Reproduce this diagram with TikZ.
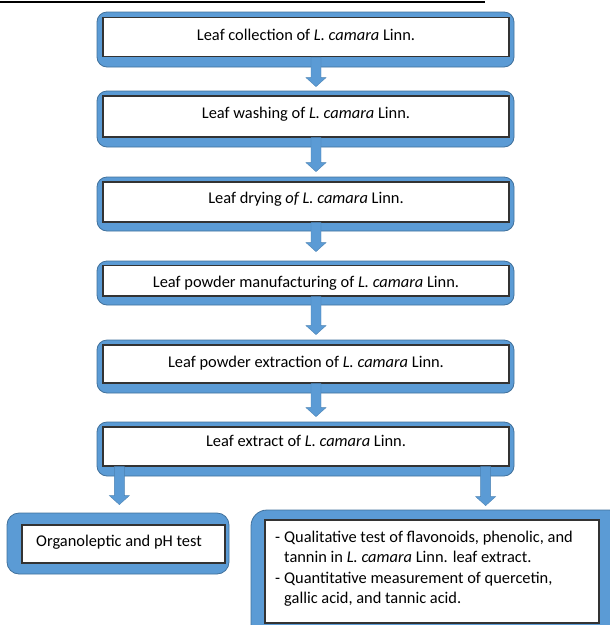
\documentclass[tikz,border=0pt]{standalone}
\usepackage{fontspec}
\setmainfont{Carlito}
\usetikzlibrary{calc,fit}
\definecolor{boxblue}{HTML}{5B9BD5}
\definecolor{boxedge}{HTML}{41719C}
\definecolor{innerline}{HTML}{333333}
\tikzset{
  outerbox/.style={draw=boxedge, line width=0.8pt, fill=boxblue, rounded corners=10pt, inner sep=0pt},
  innerbox/.style={draw=innerline, line width=1.3pt, fill=white, inner sep=0pt},
  lbl/.style={font=\fontsize{16.4}{19}\selectfont, inner sep=0pt, anchor=base},
  barrow/.style={fill=boxblue, draw=boxedge!60!boxblue, line width=0.4pt},
}
\newcommand{\blockarrow}[2]{%
  \draw[barrow] ($(#1)+(-5,0)$) -- ($(#2)+(-5,-9)$) -- ($(#2)+(-10,-9)$) -- (#2)
    -- ($(#2)+(10,-9)$) -- ($(#2)+(5,-9)$) -- ($(#1)+(5,0)$) -- cycle;}
\begin{document}
\begin{tikzpicture}[x=1pt,y=-1pt]
\useasboundingbox (0,0) rectangle (610,625);
\clip (0,0) rectangle (610,625);
% cut-off underline of the heading above
\fill[black] (0,1.2) rectangle (485,3.2);

% main column
\node[outerbox, fit={(97,12) (514,67)}] (o1) {};
\node[innerbox, fit={(103,17.5) (509,56.5)}] (i1) {};
\node[lbl] (t1) at (306,40) {Leaf collection of \textit{L. camara} Linn.};

\node[outerbox, fit={(97,91) (514,147)}] (o2) {};
\node[innerbox, fit={(103,96) (509,137)}] (i2) {};
\node[lbl] (t2) at (306,118) {Leaf washing of \textit{L. camara} Linn.};

\node[outerbox, fit={(97,177) (514,231)}] (o3) {};
\node[innerbox, fit={(103,182) (509,222)}] (i3) {};
\node[lbl] (t3) at (306,203) {Leaf drying \textit{of L. camara} Linn.};

\node[outerbox, fit={(97,261) (514,305)}] (o4) {};
\node[innerbox, fit={(103,265.5) (509,296)}] (i4) {};
\node[lbl] (t4) at (306,287) {Leaf powder manufacturing of \textit{L. camara} Linn.};

\node[outerbox, fit={(97,340) (514,393)}] (o5) {};
\node[innerbox, fit={(103,345) (509,383)}] (i5) {};
\node[lbl] (t5) at (306,367) {Leaf powder extraction of \textit{L. camara} Linn.};

\node[outerbox, fit={(97,422) (514,476)}] (o6) {};
\node[innerbox, fit={(103,427) (509,466)}] (i6) {};
\node[lbl] (t6) at (306,446) {Leaf extract of \textit{L. camara} Linn.};

% bottom boxes
\node[outerbox, rounded corners=12pt, fit={(7,513) (229,574)}] (o7) {};
\node[innerbox, fit={(22,525) (225,563)}] (i7) {};
\node[lbl] (t7) at (119,546) {Organoleptic and pH test};

\node[outerbox, rounded corners=16pt, fit={(251,510) (625,650)}] (o8) {};
\node[innerbox, fit={(265,520) (599,623)}] (i8) {};
\node[lbl, anchor=base west] (t8) at (275,542) {\fontsize{16.4}{20.5}\selectfont
  \begin{tabular}[t]{@{}l@{\hspace{4pt}}l@{}}
  - & Qualitative test of flavonoids, phenolic, and\\
    & tannin in \textit{L. camara} Linn. leaf extract.\\
  - & Quantitative measurement of quercetin,\\
    & gallic acid, and tannic acid.
  \end{tabular}};

% arrows
\coordinate (s1) at ($(i1.south)+(10,0)$);
\coordinate (e1) at ($(s1 |- o2.north)+(0,-4)$);
\blockarrow{s1}{e1}
\coordinate (s2) at ($(i2.south)+(10,0)$);
\coordinate (e2) at ($(s2 |- o3.north)+(0,-5)$);
\blockarrow{s2}{e2}
\coordinate (s3) at ($(i3.south)+(10,0)$);
\coordinate (e3) at ($(s3 |- o4.north)+(0,-9)$);
\blockarrow{s3}{e3}
\coordinate (s4) at ($(i4.south)+(10,0)$);
\coordinate (e4) at ($(s4 |- o5.north)+(0,-5)$);
\blockarrow{s4}{e4}
\coordinate (s5) at ($(i5.south)+(10,0)$);
\coordinate (e5) at ($(s5 |- o6.north)+(0,-5)$);
\blockarrow{s5}{e5}
\coordinate (s6) at ($(i6.south west)+(17,0)$);
\coordinate (e6) at ($(s6 |- o7.north)+(0,-8)$);
\blockarrow{s6}{e6}
\coordinate (s7) at ($(i6.south east)+(-24,0)$);
\coordinate (e7) at ($(s7 |- o8.north)+(0,-4)$);
\blockarrow{s7}{e7}
\end{tikzpicture}
\end{document}
